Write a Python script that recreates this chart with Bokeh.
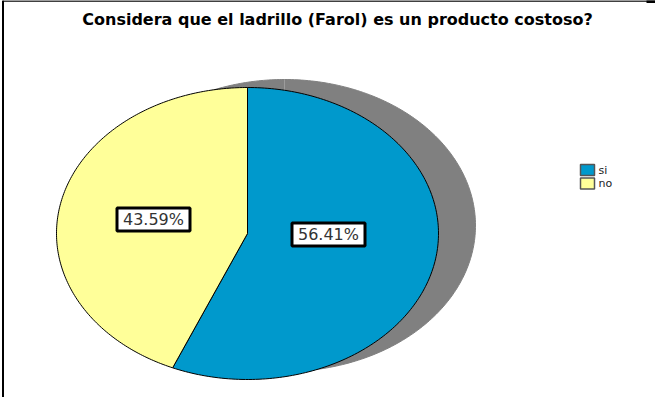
import numpy as np
from bokeh.plotting import figure
from bokeh.models import Range1d
from bokeh.core.properties import value
from bokeh.embed import file_html
from bokeh.resources import INLINE

# ---- data ----
title_text = "Considera que el ladrillo (Farol) es un producto costoso?"
categories = ["si", "no"]
percentages = [56.41, 43.59]
label_texts = ["56.41%", "43.59%"]

# ---- style / layout ----
colors = ["#0099CC", "#FFFF99"]
W, H = 655, 397
FONT = "DejaVu Sans"
cx, cy = 247.0, 164.0          # pie centre (data px)
rx, ry = 191.0, 146.0          # ellipse radii
sdx, sdy = 37.0, 8.0           # shadow offset
label_pos = [(328.0, 163.0), (153.0, 178.0)]
legend_x, legend_y0, legend_step = 587.0, 227.5, 13.5

p = figure(width=W, height=H, output_backend="svg", toolbar_location=None,
           x_range=Range1d(0, W), y_range=Range1d(0, H),
           min_border=0, x_axis_location=None, y_axis_location=None,
           outline_line_color=None, background_fill_color="white",
           border_fill_color="white")
p.grid.visible = False

# frame lines
p.line(x=[2.5, 2.5], y=[0, H], line_color="black", line_width=2)
p.line(x=[2, W], y=[396.5, 396.5], line_color="black", line_width=1.5)
p.line(x=[646, W], y=[396, 396], line_color="black", line_width=3)

# title
p.text(x=[337], y=[378], text=[title_text], text_font=value(FONT),
       text_font_style="bold", text_font_size="16px", text_align="center",
       text_baseline="alphabetic", text_color="black")

# slice angles from the data (clockwise from 12 o'clock)
total = float(sum(percentages))
fracs = np.array(percentages) / total
bounds = np.concatenate([[0.0], np.cumsum(fracs)]) * 2 * np.pi


def sector(x0, y0, a0, a1):
    t = np.linspace(a0, a1, 200)
    xs = np.concatenate([[x0], x0 + rx * np.sin(t), [x0]])
    ys = np.concatenate([[y0], y0 + ry * np.cos(t), [y0]])
    return list(xs), list(ys)


# shadow
sx, sy = cx + sdx, cy + sdy
shx, shy = [], []
for i in range(len(percentages)):
    xs, ys = sector(sx, sy, bounds[i], bounds[i + 1])
    shx.append(xs)
    shy.append(ys)
p.patches(xs=shx, ys=shy, fill_color="#808080", line_color="#808080", line_width=1)
for b in bounds[:-1]:
    p.line(x=[sx, sx + rx * np.sin(b)], y=[sy, sy + ry * np.cos(b)],
           line_color="#9c9c9c", line_width=1)

# pie
px, py = [], []
for i in range(len(percentages)):
    xs, ys = sector(cx, cy, bounds[i], bounds[i + 1])
    px.append(xs)
    py.append(ys)
p.patches(xs=px, ys=py, fill_color=colors, line_color="black", line_width=1)

# labels
lx = [lp[0] for lp in label_pos]
ly = [lp[1] for lp in label_pos]
p.rect(x=lx, y=ly, width=73, height=23, fill_color="white",
       line_color="black", line_width=3)
p.text(x=lx, y=ly, text=label_texts, text_font=value(FONT),
       text_font_size="16px", text_align="center", text_baseline="middle",
       text_color="#333333")

# legend
lgy = [legend_y0 - i * legend_step for i in range(len(categories))]
p.rect(x=[legend_x] * len(categories), y=lgy, width=14, height=11,
       fill_color=colors, line_color="#555555", line_width=1.5)
p.text(x=[legend_x + 11] * len(categories), y=lgy, text=categories,
       text_font=value(FONT), text_font_size="11px", text_align="left",
       text_baseline="middle", text_color="#222222")

open("out.html", "w").write(file_html(p, INLINE))
